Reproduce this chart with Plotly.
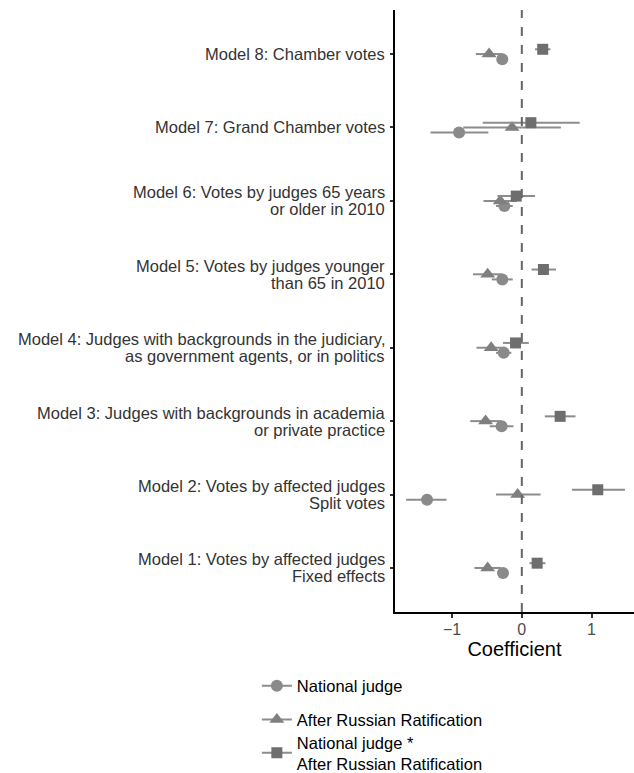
import plotly.graph_objects as go

models = [
    "Model 1: Votes by affected judges\nFixed effects",
    "Model 2: Votes by affected judges\nSplit votes",
    "Model 3: Judges with backgrounds in academia\nor private practice",
    "Model 4: Judges with backgrounds in the judiciary,\nas government agents, or in politics",
    "Model 5: Votes by judges younger\nthan 65 in 2010",
    "Model 6: Votes by judges 65 years\nor older in 2010",
    "Model 7: Grand Chamber votes",
    "Model 8: Chamber votes",
]

series_names = ["National judge", "After Russian Ratification",
                "National judge *<br>After Russian Ratification"]

nat_est = [-0.27, -1.36, -0.29, -0.26, -0.28, -0.25, -0.90, -0.28]
nat_lo = [-0.34, -1.66, -0.46, -0.37, -0.43, -0.37, -1.31, -0.32]
nat_hi = [-0.20, -1.08, -0.12, -0.15, -0.13, -0.13, -0.48, -0.24]

rus_est = [-0.49, -0.06, -0.52, -0.44, -0.49, -0.31, -0.14, -0.47]
rus_lo = [-0.68, -0.37, -0.74, -0.65, -0.70, -0.55, -0.84, -0.66]
rus_hi = [-0.30, 0.27, -0.30, -0.23, -0.28, -0.07, 0.56, -0.28]

int_est = [0.22, 1.09, 0.55, -0.09, 0.31, -0.08, 0.13, 0.30]
int_lo = [0.11, 0.72, 0.33, -0.27, 0.14, -0.35, -0.56, 0.19]
int_hi = [0.34, 1.48, 0.77, 0.10, 0.49, 0.19, 0.83, 0.41]

xticks = [-1, 0, 1]
xticklabels = ["\u22121", "0", "1"]

series = [
    (nat_est, nat_lo, nat_hi, "circle", "#8a8a8a", 12, -0.07),
    (rus_est, rus_lo, rus_hi, "triangle-up", "#7f7f7f", 13, 0.0),
    (int_est, int_lo, int_hi, "square", "#6e6e6e", 11, 0.065),
]

FONT = "Liberation Sans, Arial, sans-serif"
legend_ids = ["legend", "legend2", "legend3"]
legend_y = [-0.123, -0.179, -0.234]

fig = go.Figure()
ypos = list(range(1, len(models) + 1))
for i, (est, lo, hi, sym, col, sz, off) in enumerate(series):
    fig.add_trace(go.Scatter(
        x=est, y=[p + off for p in ypos], mode="markers",
        marker=dict(symbol=sym, color=col, size=sz),
        error_x=dict(type="data", symmetric=False,
                     array=[h - e for h, e in zip(hi, est)],
                     arrayminus=[e - l for e, l in zip(est, lo)],
                     width=0, thickness=2, color="#8c8c8c"),
        showlegend=False, hoverinfo="x",
    ))
    fig.add_trace(go.Scatter(
        x=[None], y=[None], mode="lines+markers", name=series_names[i],
        marker=dict(symbol=sym, color=col, size=sz),
        line=dict(color="#8c8c8c", width=2),
        legend=legend_ids[i], showlegend=True,
    ))

fig.add_vline(x=0, line=dict(color="#666666", width=2, dash="dash"))

# category labels (tight line spacing like the original)
LINE_H = 17
for p, lab in zip(ypos, models):
    lines = lab.split("\n")
    n = len(lines)
    for k, ln in enumerate(lines):
        shift = ((n - 1) / 2 - k) * LINE_H
        fig.add_annotation(
            x=0, xref="paper", y=p, yref="y", text=ln, showarrow=False,
            xanchor="right", yanchor="middle", xshift=-8, yshift=shift,
            font=dict(family=FONT, size=16.5, color="#333333"),
        )

legend_common = dict(x=-0.578, xanchor="left", yanchor="middle",
                     font=dict(family=FONT, size=16.5, color="black"),
                     bgcolor="rgba(0,0,0,0)")

fig.update_layout(
    width=634, height=773,
    margin=dict(l=395, r=0, t=10, b=161, autoexpand=False),
    plot_bgcolor="white", paper_bgcolor="white",
    font=dict(family=FONT, size=14, color="#4d4d4d"),
    xaxis=dict(range=[-1.82, 1.61], tickvals=xticks, ticktext=xticklabels,
               showgrid=False, zeroline=False, showline=True, linecolor="black",
               linewidth=2, ticks="outside", ticklen=4, tickwidth=1.5, tickcolor="#333",
               ticklabelstandoff=-2, automargin=False,
               tickfont=dict(size=16, color="#4d4d4d"),
               title=dict(text="Coefficient", font=dict(size=20, color="black"), standoff=0)),
    yaxis=dict(range=[0.4, 8.6], tickvals=ypos, showticklabels=False, automargin=False,
               showgrid=False, zeroline=False, showline=True, linecolor="black",
               linewidth=2, ticks="outside", ticklen=3, tickwidth=1.5, tickcolor="#333"),
    legend=dict(y=legend_y[0], **legend_common),
    legend2=dict(y=legend_y[1], **legend_common),
    legend3=dict(y=legend_y[2], **legend_common),
)

fig.write_html("out.html")
